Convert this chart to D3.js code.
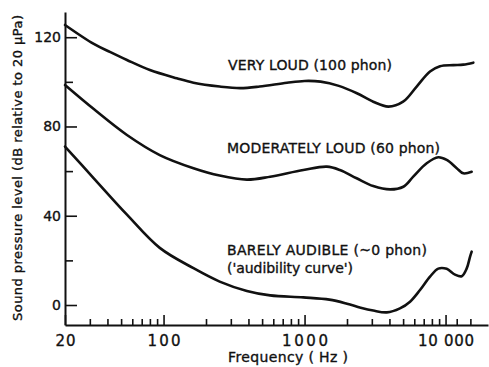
<!DOCTYPE html>
<html>
<head>
<meta charset="utf-8">
<script src="https://cdn.jsdelivr.net/npm/d3@7"></script>
<style>
  body { margin: 0; background: #fff; }
  svg text { font-family: "DejaVu Sans", sans-serif; fill: #111; stroke: #111; stroke-width: 0.35px; }
</style>
</head>
<body>
<script>
// Equal-loudness contours: frequency (Hz) and sound pressure level (dB re 20 µPa)
const phon100Freq  = [20, 32, 42, 55, 80, 124, 163, 250, 350, 480, 750, 1000, 1300, 1750, 2350, 3070, 3930, 5000, 6240, 7760, 9130, 11350, 13360, 15740];
const phon100Level = [125.5, 117.0, 113.3, 109.8, 105.3, 101.6, 99.6, 97.9, 97.2, 97.9, 99.6, 100.4, 100.1, 98.2, 94.9, 91.1, 88.9, 91.1, 97.9, 104.6, 107.0, 107.5, 107.7, 108.6];

const phon60Freq  = [20, 32, 55, 94, 163, 250, 390, 570, 980, 1440, 1780, 2340, 3070, 4040, 5020, 5900, 7350, 8880, 10190, 12000, 13360, 15320];
const phon60Level = [98.6, 87.8, 76.2, 67.2, 61.3, 58.0, 56.2, 57.5, 60.5, 62.0, 60.5, 56.8, 53.3, 51.8, 53.0, 57.5, 63.5, 66.2, 65.0, 61.3, 59.0, 59.7];

const phon0Freq  = [20, 32, 55, 94, 163, 250, 390, 570, 980, 1500, 2000, 2500, 3070, 3830, 4750, 5600, 6590, 7760, 8880, 10190, 11670, 13020, 14130, 14910, 15320];
const phon0Level = [71.0, 56.8, 40.5, 25.6, 16.5, 10.5, 6.3, 4.3, 3.4, 2.4, 0.6, -1.2, -2.5, -3.3, -1.5, 1.5, 6.7, 12.7, 16.3, 16.2, 13.6, 12.9, 16.4, 21.6, 23.9];

// Axis ticks
const xMajorTicks  = [20, 100, 1000, 10000];
const xMajorLabels = ["20", "100", "1000", "10 000"];
const xMinorTicks  = [30, 40, 50, 60, 70, 80, 90,
                      200, 300, 400, 500, 600, 700, 800, 900,
                      2000, 3000, 4000, 5000, 6000, 7000, 8000, 9000,
                      12000, 15000];
const yMajorTicks  = [0, 40, 80, 120];
const yMinorTicks  = [20, 60, 100];

// Curve labels
const curveLabels = [
  { text: "VERY LOUD (100 phon)", x: 228, y: 69.5, w: 164 },
  { text: "MODERATELY LOUD (60 phon)", x: 227, y: 153, w: 213 },
  { text: "BARELY AUDIBLE (~0 phon)", x: 227, y: 254.5, w: 200 },
  { text: "('audibility curve')", x: 227, y: 273, w: 126 }
];

const W = 489, H = 367;
const svg = d3.select("body").append("svg")
  .attr("width", W).attr("height", H);

const x = d3.scaleLog().domain([20, 20000]).range([65, 488]);
const y = d3.scaleLinear().domain([-8.96, 131.3]).range([325, 12]);

// y axis: major ticks with labels, minor ticks without
svg.append("g").attr("transform", "translate(65,0)")
  .call(d3.axisLeft(y).tickValues(yMajorTicks).tickSizeInner(-12).tickSizeOuter(0).tickPadding(4));
svg.append("g").attr("transform", "translate(65,0)")
  .call(d3.axisLeft(y).tickValues(yMinorTicks).tickSizeInner(-8).tickSizeOuter(0).tickFormat(""))
  .select(".domain").remove();

// x axis
const xAxis = svg.append("g").attr("transform", "translate(0,325)")
  .call(d3.axisBottom(x).tickValues(xMajorTicks).tickSizeInner(-10).tickSizeOuter(0).tickPadding(10)
    .tickFormat((d, i) => xMajorLabels[i]));
svg.append("g").attr("transform", "translate(0,325)")
  .call(d3.axisBottom(x).tickValues(xMinorTicks).tickSizeInner(-6).tickSizeOuter(0).tickFormat(""))
  .select(".domain").remove();

svg.selectAll(".domain").attr("stroke", "#111").attr("stroke-width", 2);
svg.selectAll(".tick line").attr("stroke", "#111").attr("stroke-width", 1.6);
svg.selectAll(".tick text").attr("font-family", "DejaVu Sans").attr("font-size", 14).attr("fill", "#111");

// wider digits on the frequency labels
const xLabelWidths = { "20": 20, "100": 33, "1000": 46, "10 000": 56 };
xAxis.selectAll(".tick text")
  .attr("font-size", 15)
  .attr("textLength", d => xLabelWidths[xMajorLabels[xMajorTicks.indexOf(d)]])
  .attr("lengthAdjust", "spacing");

// axis titles
svg.append("text")
  .attr("x", 288).attr("y", 362)
  .attr("text-anchor", "middle")
  .attr("font-size", 14)
  .attr("textLength", 120).attr("lengthAdjust", "spacing")
  .text("Frequency ( Hz )");

svg.append("text")
  .attr("transform", "translate(22,168) rotate(-90)")
  .attr("text-anchor", "middle")
  .attr("font-size", 13)
  .attr("textLength", 306).attr("lengthAdjust", "spacing")
  .text("Sound pressure level (dB relative to 20 \u03BCPa)");

// contours, smoothed through the read-off points
const line = d3.line()
  .x(d => x(d[0]))
  .y(d => y(d[1]))
  .curve(d3.curveCatmullRom.alpha(0.5));

const curves = [
  d3.zip(phon100Freq, phon100Level),
  d3.zip(phon60Freq, phon60Level),
  d3.zip(phon0Freq, phon0Level)
];

svg.append("g").selectAll("path")
  .data(curves)
  .join("path")
  .attr("d", line)
  .attr("fill", "none")
  .attr("stroke", "#111")
  .attr("stroke-width", 2.6)
  .attr("stroke-linecap", "round")
  .attr("stroke-linejoin", "round");

// curve labels
svg.append("g").selectAll("text")
  .data(curveLabels)
  .join("text")
  .attr("x", d => d.x)
  .attr("y", d => d.y)
  .attr("font-size", 14)
  .attr("textLength", d => d.w)
  .attr("lengthAdjust", "spacing")
  .text(d => d.text);
</script>
</body>
</html>
